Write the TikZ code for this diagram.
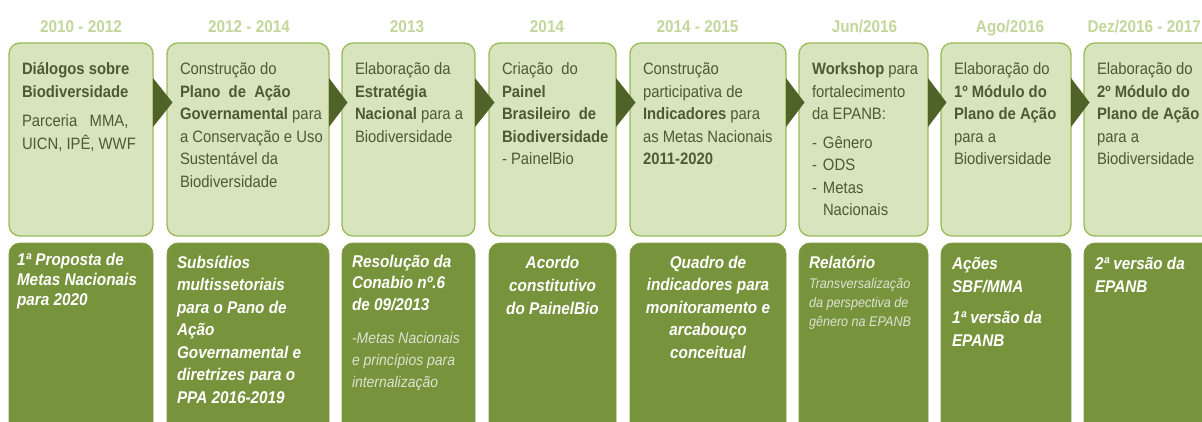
\documentclass[tikz,border=0pt]{standalone}
\usepackage{fontspec}
\setmainfont{Liberation Sans}[FakeStretch=0.9]
\usetikzlibrary{calc}
\definecolor{topfill}{HTML}{D7E4BD}
\definecolor{topline}{HTML}{9BBB59}
\definecolor{botfill}{HTML}{77933C}
\definecolor{botline}{HTML}{809C47}
\definecolor{chev}{HTML}{4F6228}
\definecolor{yearcol}{HTML}{C3D69B}
\definecolor{txtcol}{HTML}{4D5B33}
\definecolor{lighttxt}{HTML}{DDE3D2}
\tikzset{
  topbox/.style={draw=topline, line width=1.3pt, fill=topfill, rounded corners=11pt,
    anchor=north west, inner sep=0pt, outer sep=0pt, minimum height=193pt},
  botbox/.style={draw=botline, line width=0.8pt, fill=botfill, rounded corners=11pt,
    anchor=north west, inner sep=0pt, outer sep=0pt, minimum height=205pt},
  yearlbl/.style={anchor=base, inner sep=0pt, text=yearcol,
    font=\fontsize{17}{20}\selectfont\bfseries},
  chevron/.style={fill=chev},
  ttxt/.style={anchor=north west, inner sep=0pt, outer sep=0pt, align=left,
    text=txtcol, font=\fontsize{16.5}{22.5}\selectfont},
  btxt/.style={anchor=north west, inner sep=0pt, outer sep=0pt, align=left,
    text=white, font=\fontsize{17}{22.5}\selectfont\bfseries\itshape},
  ctxt/.style={anchor=north, inner sep=0pt, outer sep=0pt, align=center,
    text=white, font=\fontsize{17}{22.5}\selectfont\bfseries\itshape},
  stxt/.style={anchor=north west, inner sep=0pt, outer sep=0pt, align=left,
    text=lighttxt, font=\fontsize{15.5}{22}\selectfont\itshape},
}
\begin{document}
\begin{tikzpicture}[x=1pt,y=-1pt]
\useasboundingbox (0,0) rectangle (1202,421);
\fill[white] (0,0) rectangle (1202,421);
\begin{scope}
\clip (0,0) rectangle (1202,421);
% year labels
\node[yearlbl] (y1) at (81,32.5) {2010 - 2012};
\node[yearlbl] (y2) at (249,32.5) {2012 - 2014};
\node[yearlbl] (y3) at (407,32.5) {2013};
\node[yearlbl] (y4) at (547,32.5) {2014};
\node[yearlbl] (y5) at (697.5,32.5) {2014 - 2015};
\node[yearlbl] (y6) at (864.5,32.5) {Jun/2016};
\node[yearlbl] (y7) at (1010,32.5) {Ago/2016};
\node[yearlbl, anchor=base east] (y8) at (1201,32.5) {Dez/2016 - 2017};
% top boxes
\node[topbox, minimum width=144pt] (t1) at (9,43) {};
\node[topbox, minimum width=162pt] (t2) at (167,43) {};
\node[topbox, minimum width=133pt] (t3) at (342,43) {};
\node[topbox, minimum width=127pt] (t4) at (489,43) {};
\node[topbox, minimum width=156pt] (t5) at (630,43) {};
\node[topbox, minimum width=129pt] (t6) at (799,43) {};
\node[topbox, minimum width=130pt] (t7) at (941,43) {};
\node[topbox, minimum width=142pt] (t8) at (1084,43) {};
% bottom boxes
\node[botbox, minimum width=144pt] (b1) at (9,243) {};
\node[botbox, minimum width=162pt] (b2) at (167,243) {};
\node[botbox, minimum width=133pt] (b3) at (342,243) {};
\node[botbox, minimum width=127pt] (b4) at (489,243) {};
\node[botbox, minimum width=156pt] (b5) at (630,243) {};
\node[botbox, minimum width=129pt] (b6) at (799,243) {};
\node[botbox, minimum width=130pt] (b7) at (941,243) {};
\node[botbox, minimum width=142pt] (b8) at (1084,243) {};
% chevrons between consecutive boxes
\foreach \p/\n in {t1/t2,t2/t3,t3/t4,t4/t5,t5/t6,t6/t7,t7/t8}{
  \fill[chevron] ($(\p.north east)+(0,35)$) -- ($(\n.north west)+(5.5,59.5)$)
    -- ($(\p.north east)+(0,84)$) -- cycle;
}
% top texts
\node[ttxt] (tt1) at (22,58.75) {\strut\textbf{Diálogos sobre}\\ \textbf{Biodiversidade}\\[7pt] Parceria\ \ \ MMA,\\ UICN, IPÊ, WWF};
\node[ttxt] (tt2) at (180,58.75) {\strut Construção do\\ \textbf{Plano\ \ de\ \ Ação}\\ \textbf{Governamental} para\\ a Conservação e Uso\\ Sustentável da\\ Biodiversidade};
\node[ttxt] (tt3) at (355,58.75) {\strut Elaboração da\\ \textbf{Estratégia}\\ \textbf{Nacional} para a\\ Biodiversidade};
\node[ttxt] (tt4) at (502,58.75) {\strut Criação\ \ do\\ \textbf{Painel}\\ \textbf{Brasileiro\ \ de}\\ \textbf{Biodiversidade}\\ - PainelBio};
\node[ttxt] (tt5) at (643,58.75) {\strut Construção\\ participativa de\\ \textbf{Indicadores} para\\ as Metas Nacionais\\ \textbf{2011-2020}};
\node[ttxt] (tt6) at (812,58.75) {\strut\textbf{Workshop} para\\ fortalecimento\\ da EPANB:\\[6pt] \makebox[11pt][l]{-}Gênero\\ \makebox[11pt][l]{-}ODS\\ \makebox[11pt][l]{-}Metas\\ \hspace*{11pt}Nacionais};
\node[ttxt] (tt7) at (954,58.75) {\strut Elaboração do\\ \textbf{1º Módulo do}\\ \textbf{Plano de Ação}\\ para a\\ Biodiversidade};
\node[ttxt] (tt8) at (1097,58.75) {\strut Elaboração do\\ \textbf{2º Módulo do}\\ \textbf{Plano de Ação}\\ para a\\ Biodiversidade};
% bottom texts
\node[btxt, font=\fontsize{17}{20}\selectfont\bfseries\itshape] (bt1) at (17,251) {\strut 1ª Proposta de\\ Metas Nacionais\\ para 2020};
\node[btxt] (bt2) at (177,252.25) {\strut Subsídios\\ multissetoriais\\ para o Pano de\\ Ação\\ Governamental e\\ diretrizes para o\\ PPA 2016-2019};
\node[btxt, font=\fontsize{17}{21.5}\selectfont\bfseries\itshape] (bt3) at (352,251.95) {\strut Resolução da\\ Conabio nº.6\\ de 09/2013};
\node[stxt] (st3) at (352,327.6) {\strut -Metas Nacionais\\ e princípios para\\ internalização};
\node[ctxt, font=\fontsize{17}{23}\selectfont\bfseries\itshape] (bt4) at (552.5,251.9) {\strut Acordo\\ constitutivo\\ do PainelBio};
\node[ctxt] (bt5) at (708,252.25) {\strut Quadro de\\ indicadores para\\ monitoramento e\\ arcabouço\\ conceitual};
\node[btxt] (bt6) at (809,252.25) {\strut Relatório};
\node[stxt, font=\fontsize{14}{19}\selectfont\itshape] (st6) at (809,274.7) {\strut Transversalização\\ da perspectiva de\\ gênero na EPANB};
\node[btxt, font=\fontsize{17}{23}\selectfont\bfseries\itshape] (bt7) at (952,252.9) {\strut Ações\\ SBF/MMA\\[8pt] 1ª versão da\\ EPANB};
\node[btxt, font=\fontsize{17}{23}\selectfont\bfseries\itshape] (bt8) at (1095,252.9) {\strut 2ª versão da\\ EPANB};
\end{scope}
\end{tikzpicture}
\end{document}
